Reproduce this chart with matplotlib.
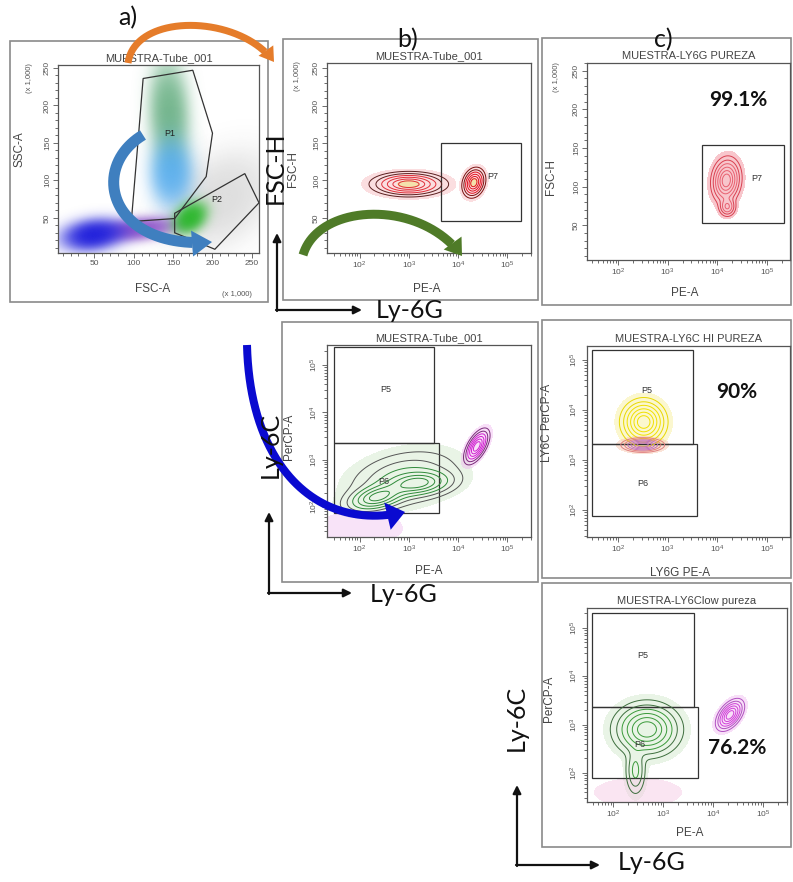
import numpy as np
import matplotlib
matplotlib.use("Agg")
import matplotlib.pyplot as plt
from matplotlib.patches import Polygon, Rectangle
from matplotlib.ticker import MultipleLocator

W, H = 793, 882
plt.rcParams["font.family"] = ["Liberation Sans", "DejaVu Sans"]
plt.rcParams["mathtext.default"] = "regular"

# ---------------- data ----------------
# a) dot plot FSC-A / SSC-A (x 1,000): populations as centre and spread
a_pop = ["otros", "P1 granulocitos", "P1 monocitos", "linfocitos", "restos", "P2"]
a_fsc = [212, 145, 148, 108, 48, 172]
a_ssc = [75, 190, 110, 35, 27, 50]
a_fsc_sd = [35, 14, 15, 26, 22, 12]
a_ssc_sd = [35, 38, 25, 9, 12, 12]
a_rho = [0.3, -0.1, 0.0, 0.3, 0.2, 0.3]
a_amount = [0.16, 0.7, 0.8, 0.8, 0.95, 0.9]
a_p1_fsc = [112, 175, 200, 192, 152, 97, 106]
a_p1_ssc = [236, 247, 163, 105, 49, 45, 158]
a_p2_fsc = [152, 241, 259, 203, 152]
a_p2_ssc = [56, 109, 70, 8, 30]

# b) arriba: FSC-H vs PE-A (Ly-6G), PE-A in log10
b1_pop = ["Ly-6G-", "Ly-6G+"]
b1_pe = [3.0, 4.32]
b1_fsch = [95, 97]
b1_pe_sd = [0.33, 0.10]
b1_fsch_sd = [7, 8.5]
b1_rho = [0.0, 0.2]
b1_amount = [1.0, 1.0]
b1_p7 = [3.66, 5.28, 46, 150]          # PE-A log min/max, FSC-H min/max

# c) arriba: pureza Ly-6G
c1_pop = ["Ly-6G+", "Ly-6G+"]
c1_pe = [4.18, 4.20]
c1_fsch = [108, 74]
c1_pe_sd = [0.13, 0.08]
c1_fsch_sd = [13, 6]
c1_rho = [0.1, 0.0]
c1_amount = [1.0, 0.45]
c1_p7 = [3.70, 5.34, 52.6, 154]

# b) medio: PerCP-A (Ly-6C) vs PE-A (Ly-6G), both log10
b2_pop = ["Ly-6C", "Ly-6C", "Ly-6C", "Ly-6G+", "restos"]
b2_pe = [2.35, 3.2, 2.9, 4.38, 2.0]
b2_percp = [2.2, 2.5, 2.6, 3.28, 1.55]
b2_pe_sd = [0.30, 0.35, 0.55, 0.11, 0.30]
b2_percp_sd = [0.15, 0.14, 0.30, 0.16, 0.12]
b2_rho = [0.4, 0.2, 0.3, 0.6, 0.0]
b2_amount = [1.0, 0.9, 0.35, 1.0, 1.0]
b2_p5 = [1.48, 3.52, 3.36, 5.38]
b2_p6 = [1.48, 3.62, 1.87, 3.36]

# c) medio: pureza Ly-6C hi
c2_pop = ["Ly-6C hi", "Ly-6C lo"]
c2_pe = [2.52, 2.50]
c2_percp = [3.76, 3.30]
c2_pe_sd = [0.20, 0.18]
c2_percp_sd = [0.20, 0.06]
c2_rho = [0.0, 0.0]
c2_amount = [1.0, 1.0]
c2_p5 = [1.48, 3.52, 3.32, 5.20]
c2_p6 = [1.48, 3.60, 1.88, 3.32]

# c) abajo: pureza Ly-6C low
c3_pop = ["Ly-6C lo", "Ly-6C lo", "Ly-6G+", "restos"]
c3_pe = [2.68, 2.45, 4.34, 2.5]
c3_percp = [2.9, 2.05, 3.2, 1.6]
c3_pe_sd = [0.30, 0.10, 0.12, 0.30]
c3_percp_sd = [0.25, 0.25, 0.14, 0.10]
c3_rho = [0.0, 0.0, 0.5, 0.0]
c3_amount = [1.0, 0.3, 1.0, 1.0]
c3_p5 = [1.58, 3.62, 3.36, 5.30]
c3_p6 = [1.58, 3.70, 1.90, 3.36]

purity = ["99.1%", "90%", "76.2%"]

# ---------------- helpers ----------------
fig = plt.figure(figsize=(W / 100, H / 100), dpi=100)
LEVELS = [0.05, 0.13, 0.25, 0.42, 0.62, 0.82]


def gauss(x, y, cx, cy, sx, sy, rho):
    u = (x - cx) / sx
    v = (y - cy) / sy
    return np.exp(-(u * u - 2 * rho * u * v + v * v) / (2 * (1 - rho * rho)))


def facs_axes(box, title, xlabel, ylabel, xlim, ylim, logx, logy, xl_pos, yl_pos, x1000=None, y1000=None):
    l, t, r, b = box
    ax = fig.add_axes([l / W, 1 - b / H, (r - l) / W, (b - t) / H])
    if logx:
        ax.set_xscale("log")
        ax.set_xticks([1e2, 1e3, 1e4, 1e5])
    else:
        ax.xaxis.set_major_locator(MultipleLocator(50))
        ax.xaxis.set_minor_locator(MultipleLocator(10))
    if logy:
        ax.set_yscale("log")
        ax.set_yticks([1e2, 1e3, 1e4, 1e5])
    else:
        ax.yaxis.set_major_locator(MultipleLocator(50))
        ax.yaxis.set_minor_locator(MultipleLocator(10))
    ax.set_xlim(xlim)
    ax.set_ylim(ylim)
    ax.set_title(title, fontsize=8, color="#444", pad=3)
    ax.set_xlabel(xlabel, fontsize=8.5, color="#444")
    ax.set_ylabel(ylabel, fontsize=8.5, color="#444")
    ax.xaxis.set_label_coords(*xl_pos)
    ax.yaxis.set_label_coords(*yl_pos)
    ax.tick_params(which="both", direction="out", colors="#555", width=0.6, labelsize=6, pad=1.5)
    ax.tick_params(which="major", length=3.5)
    ax.tick_params(which="minor", length=2)
    ax.tick_params(axis="y", labelrotation=90)
    plt.setp(ax.get_yticklabels(), va="center")
    for s in ax.spines.values():
        s.set_color("#555")
        s.set_linewidth(0.9)
    if y1000:
        ax.text(*y1000, "(x 1,000)", transform=ax.transAxes, rotation=90, fontsize=5.5,
                color="#555", ha="center", va="center")
    if x1000:
        ax.text(*x1000, "(x 1,000)", transform=ax.transAxes, fontsize=5.5,
                color="#555", ha="center", va="center")
    return ax


def contours(ax, pops, xs, ys, sxs, sys_, rhos, amounts, styles, logy):
    x0, x1 = np.log10(ax.get_xlim())
    y0, y1 = np.log10(ax.get_ylim()) if logy else ax.get_ylim()
    gx, gy = np.meshgrid(np.linspace(x0, x1, 320), np.linspace(y0, y1, 320))
    X = 10 ** gx
    Y = 10 ** gy if logy else gy
    for name in dict.fromkeys(pops):
        d = sum(amounts[i] * gauss(gx, gy, xs[i], ys[i], sxs[i], sys_[i], rhos[i])
                for i in range(len(pops)) if pops[i] == name)
        d = d / d.max()
        st = styles[name]
        ax.contourf(X, Y, d, levels=[0.015, 1.01], colors=[st["fill"]], alpha=st.get("alpha", 0.45))
        if st.get("core"):
            ax.contourf(X, Y, d, levels=[0.8, 1.01], colors=[st["core"]], alpha=0.8)
        if st.get("outer"):
            ax.contour(X, Y, d, levels=LEVELS, colors=[st["outer"]] * 2 + [st["inner"]] * 4,
                       linewidths=0.7)


def rect_gate(ax, g, logy, label, lpos):
    x0, x1 = 10 ** g[0], 10 ** g[1]
    y0, y1 = (10 ** g[2], 10 ** g[3]) if logy else (g[2], g[3])
    ax.add_patch(Rectangle((x0, y0), x1 - x0, y1 - y0, fill=False, ec="#333", lw=0.9))
    ax.text(*lpos, label, fontsize=6.5, color="#333", ha="center", va="center")


def bent_arrow(ax, pts, color, width, head_w, head_l):
    p = np.array(pts, float)
    t = np.linspace(0, 1, 300)[:, None]
    c = ((1 - t) ** 3 * p[0] + 3 * (1 - t) ** 2 * t * p[1]
         + 3 * (1 - t) * t ** 2 * p[2] + t ** 3 * p[3])
    d = p[3] - p[2]
    d = d / np.hypot(*d)
    n = np.array([-d[1], d[0]])
    base = p[3] - d * head_l
    proj = (c - p[3]) @ d
    last = np.nonzero(proj < -head_l + 1)[0].max()
    ax.plot(c[:last + 1, 0], c[:last + 1, 1], color=color, lw=width * 0.72, solid_capstyle="butt")
    ax.add_patch(Polygon([p[3], base + n * head_w / 2, base - n * head_w / 2], closed=True,
                         color=color, lw=0))


# ---------------- outer panel frames ----------------
bg = fig.add_axes([0, 0, 1, 1], zorder=-1)
bg.set_xlim(0, W)
bg.set_ylim(H, 0)
bg.axis("off")
for l, t, r, b in [(10, 41, 268, 302), (283, 39, 538, 300), (542, 38, 791, 305),
                   (282, 322, 538, 582), (542, 320, 791, 578), (542, 583, 791, 847)]:
    bg.add_patch(Rectangle((l, t), r - l, b - t, fill=False, ec="#8a8a8a", lw=1.2))

# ---------------- a) ----------------
ax = facs_axes((58, 65, 259, 253), "MUESTRA-Tube_001", "FSC-A", "SSC-A", (4, 259), (3, 254),
               False, False, (0.47, -0.16), (-0.16, 0.55), x1000=(0.89, -0.22), y1000=(-0.14, 0.93))
a_colors = ["#333333", "#3d9960", "#45a5f0", "#7b35c0", "#1a1adb", "#1fb51f"]
gx, gy = np.meshgrid(np.linspace(4, 259, 400), np.linspace(3, 254, 400))
for i in range(len(a_pop)):
    d = gauss(gx, gy, a_fsc[i], a_ssc[i], a_fsc_sd[i], a_ssc_sd[i], a_rho[i])
    rgba = np.zeros(d.shape + (4,))
    rgba[..., :3] = matplotlib.colors.to_rgb(a_colors[i])
    rgba[..., 3] = a_amount[i] * (1 - np.exp(-2.5 * d)) / (1 - np.exp(-2.5))
    ax.imshow(rgba, extent=(4, 259, 3, 254), origin="lower", aspect="auto", interpolation="bilinear")
ax.add_patch(Polygon(list(zip(a_p1_fsc, a_p1_ssc)), fill=False, ec="#333", lw=0.9))
ax.add_patch(Polygon(list(zip(a_p2_fsc, a_p2_ssc)), fill=False, ec="#333", lw=0.9))
ax.text(146, 163, "P1", fontsize=6.5, color="#222", ha="center", va="center")
ax.text(205, 74, "P2", fontsize=6.5, color="#222", ha="center", va="center")

red_st = dict(fill="#f7b7bc", outer="#5a1f1f", inner="#e0303a", core="#f3e2a0")

# ---------------- b) top ----------------
ax = facs_axes((327, 63, 531, 253), "MUESTRA-Tube_001", "PE-A", "FSC-H", (10 ** 1.34, 10 ** 5.48), (3, 257),
               True, False, (0.49, -0.158), (-0.135, 0.44), y1000=(-0.147, 0.93))
contours(ax, b1_pop, b1_pe, b1_fsch, b1_pe_sd, b1_fsch_sd, b1_rho, b1_amount,
         {"Ly-6G-": red_st, "Ly-6G+": dict(red_st, outer="#7a1010", inner="#e01020")}, False)
rect_gate(ax, b1_p7, False, "P7", (10 ** 4.7, 105))

# ---------------- c) top ----------------
ax = facs_axes((587, 63, 790, 260), "MUESTRA-LY6G PUREZA", "PE-A", "FSC-H", (10 ** 1.38, 10 ** 5.46), (5, 260),
               True, False, (0.48, -0.137), (-0.148, 0.42), y1000=(-0.15, 0.93))
contours(ax, c1_pop, c1_pe, c1_fsch, c1_pe_sd, c1_fsch_sd, c1_rho, c1_amount,
         {"Ly-6G+": dict(fill="#f4a0aa", outer="#d84050", inner="#e86070", alpha=0.6)}, False)
rect_gate(ax, c1_p7, False, "P7", (10 ** 4.8, 111))

# ---------------- b) middle ----------------
ax = facs_axes((327, 345, 531, 537), "MUESTRA-Tube_001", "PE-A", "PerCP-A",
               (10 ** 1.34, 10 ** 5.48), (10 ** 1.36, 10 ** 5.43),
               True, True, (0.5, -0.146), (-0.157, 0.52))
contours(ax, b2_pop, b2_pe, b2_percp, b2_pe_sd, b2_percp_sd, b2_rho, b2_amount,
         {"Ly-6C": dict(fill="#cfe8c8", outer="#555555", inner="#2f8a3a"),
          "Ly-6G+": dict(fill="#f0b8f0", outer="#7a2a7a", inner="#d020d0"),
          "restos": dict(fill="#f2c8f2", alpha=0.5)}, True)
rect_gate(ax, b2_p5, True, "P5", (10 ** 2.54, 10 ** 4.49))
rect_gate(ax, b2_p6, True, "P6", (10 ** 2.5, 10 ** 2.53))

# ---------------- c) middle ----------------
ax = facs_axes((587, 346, 790, 537), "MUESTRA-LY6C HI PUREZA", "LY6G PE-A", "LY6C PerCP-A",
               (10 ** 1.38, 10 ** 5.46), (10 ** 1.46, 10 ** 5.28),
               True, True, (0.46, -0.156), (-0.167, 0.6))
contours(ax, c2_pop, c2_pe, c2_percp, c2_pe_sd, c2_percp_sd, c2_rho, c2_amount,
         {"Ly-6C hi": dict(fill="#f8f0a0", outer="#e8d800", inner="#f0e000", alpha=0.5),
          "Ly-6C lo": dict(fill="#f8c8b0", outer="#e08080", inner="#c070c0", alpha=0.5)}, True)
rect_gate(ax, c2_p5, True, "P5", (10 ** 2.58, 10 ** 4.4))
rect_gate(ax, c2_p6, True, "P6", (10 ** 2.5, 10 ** 2.54))

# ---------------- c) bottom ----------------
ax = facs_axes((587, 608, 787, 802), "MUESTRA-LY6Clow pureza", "PE-A", "PerCP-A",
               (10 ** 1.48, 10 ** 5.48), (10 ** 1.4, 10 ** 5.41),
               True, True, (0.515, -0.13), (-0.16, 0.53))
contours(ax, c3_pop, c3_pe, c3_percp, c3_pe_sd, c3_percp_sd, c3_rho, c3_amount,
         {"Ly-6C lo": dict(fill="#cfe8c8", outer="#3d6e3d", inner="#3a9a3a"),
          "Ly-6G+": dict(fill="#f0b8f0", outer="#b050c0", inner="#d040d8"),
          "restos": dict(fill="#f6cce6", alpha=0.5)}, True)
rect_gate(ax, c3_p5, True, "P5", (10 ** 2.6, 10 ** 4.43))
rect_gate(ax, c3_p6, True, "P6", (10 ** 2.54, 10 ** 2.58))

# ---------------- overlay: labels and arrows ----------------
ov = fig.add_axes([0, 0, 1, 1], zorder=10)
ov.set_xlim(0, W)
ov.set_ylim(H, 0)
ov.axis("off")

big = dict(fontsize=18, color="#111", family=["Lato", "DejaVu Sans"], ha="center", va="center")
ov.text(128, 18, "a)", **big)
ov.text(408, 40, "b)", **big)
ov.text(663, 40, "c)", **big)
ov.text(275, 168, "FSC-H", rotation=90, **big)
ov.text(410, 311, "Ly-6G", **big)
ov.text(270, 445, "Ly-6C", rotation=90, **big)
ov.text(404, 595, "Ly-6G", **big)
ov.text(516, 718, "Ly-6C", rotation=90, **big)
ov.text(652, 863, "Ly-6G", **big)

pct = dict(fontsize=15, color="#111", family=["Lato", "DejaVu Sans"], weight="bold", ha="center", va="center")
ov.text(738, 100, purity[0], **pct)
ov.text(737, 392, purity[1], **pct)
ov.text(737, 748, purity[2], **pct)

arr = dict(arrowstyle="-|>", color="#111", lw=1.6, mutation_scale=12, shrinkA=0, shrinkB=0)
for cx, cy, top, right in [(277, 310, 233, 362), (269, 593, 512, 352), (517, 865, 785, 600)]:
    ov.annotate("", xy=(cx, top), xytext=(cx, cy + 1), arrowprops=arr)
    ov.annotate("", xy=(right, cy), xytext=(cx - 1, cy), arrowprops=arr)

bent_arrow(ov, [(128, 63), (135, 12), (240, 14), (274, 62)], "#e57c2a", 7, 18, 14)
bent_arrow(ov, [(143, 135), (88, 168), (110, 250), (212, 242)], "#3f7fbf", 11, 26, 20)
bent_arrow(ov, [(303, 255), (318, 203), (420, 198), (462, 256)], "#4f7b28", 9, 22, 16)
bent_arrow(ov, [(247, 345), (250, 470), (320, 532), (405, 512)], "#0a0ad0", 8, 28, 18)

fig.savefig("out.png", dpi=100)
